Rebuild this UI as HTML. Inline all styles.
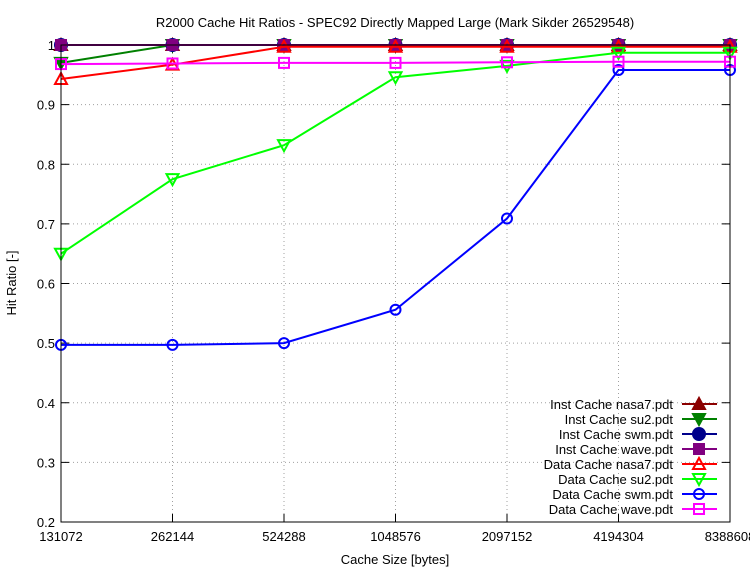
<!DOCTYPE html>
<html><head><meta charset="utf-8"><style>
body{margin:0;background:#fff}
svg{display:block;font-family:"Liberation Sans",sans-serif}
</style></head><body>
<svg id="c" width="750" height="570"></svg>
<script>
const categories=["131072","262144","524288","1048576","2097152","4194304","8388608"];
const yTicks=[0.2,0.3,0.4,0.5,0.6,0.7,0.8,0.9,1];
const yTickLabels=["0.2","0.3","0.4","0.5","0.6","0.7","0.8","0.9","1"];
const seriesNames=["Inst Cache nasa7.pdt","Inst Cache su2.pdt","Inst Cache swm.pdt","Inst Cache wave.pdt","Data Cache nasa7.pdt","Data Cache su2.pdt","Data Cache swm.pdt","Data Cache wave.pdt"];
const instNasa7=[1,1,1,1,1,1,1];
const instSu2=[0.97,1,1,1,1,1,1];
const instSwm=[1,1,1,1,1,1,1];
const instWave=[1,1,1,1,1,1,1];
const dataNasa7=[0.943,0.967,0.997,0.997,0.997,0.997,0.997];
const dataSu2=[0.65,0.775,0.832,0.946,0.965,0.987,0.987];
const dataSwm=[0.497,0.497,0.5,0.556,0.709,0.958,0.958];
const dataWave=[0.968,0.969,0.97,0.97,0.971,0.972,0.972];
const seriesValues=[instNasa7,instSu2,instSwm,instWave,dataNasa7,dataSu2,dataSwm,dataWave];
const colors=["#8b0000","#008000","#00008b","#800080","#ff0000","#00ff00","#0000ff","#ff00ff"];
const markers=["tri","itri","circ","sq","tri","itri","circ","sq"];
const filled=[1,1,1,1,0,0,0,0];
const L=61,R=730,T=45,B=522,ymin=0.2,ymax=1;
const xs=i=>L+i*(R-L)/(categories.length-1);
const ys=v=>B-(v-ymin)/(ymax-ymin)*(B-T);
const svg=document.getElementById('c');const NS="http://www.w3.org/2000/svg";
function mk(t,a,p){const e=document.createElementNS(NS,t);for(const k in a)e.setAttribute(k,a[k]);(p||svg).appendChild(e);return e;}
function txt(s,x,y,anchor,name){const e=mk('text',{x:x,y:y,'text-anchor':anchor,'font-size':13,fill:'#000'});e.textContent=s;

return e;}
// grid + ticks
yTicks.forEach((v,i)=>{const y=ys(v);
 if(i>0&&i<yTicks.length-1){const g=mk('line',{x1:L,x2:R,y1:y,y2:y,stroke:'#a0a0a0','stroke-dasharray':'1,3'});
 
 }
 mk('line',{x1:L,x2:L+8,y1:y,y2:y,stroke:'#000'});mk('line',{x1:R,x2:R-8,y1:y,y2:y,stroke:'#000'});
 txt(yTickLabels[i],L-6,y+5,'end','y-tick-label');});
categories.forEach((c,i)=>{const x=xs(i);
 if(i>0&&i<categories.length-1){const g=mk('line',{x1:x,x2:x,y1:T,y2:B,stroke:'#a0a0a0','stroke-dasharray':'1,3'});
 
 }
 mk('line',{x1:x,x2:x,y1:B,y2:B-8,stroke:'#000'});mk('line',{x1:x,x2:x,y1:T,y2:T+8,stroke:'#000'});
 txt(c,x,541,'middle','x-tick-label');});
function marker(type,x,y,col,fill,g){const f=fill?col:'none';const sw=2;
 if(type=='tri')return mk('polygon',{points:`${x},${y-6} ${x-6},${y+5} ${x+6},${y+5}`,fill:f,stroke:col,'stroke-width':sw},g);
 if(type=='itri')return mk('polygon',{points:`${x},${y+6} ${x-6},${y-5} ${x+6},${y-5}`,fill:f,stroke:col,'stroke-width':sw},g);
 if(type=='circ')return mk('circle',{cx:x,cy:y,r:fill?6:5,fill:f,stroke:col,'stroke-width':sw},g);
 return mk('rect',{x:x-5,y:y-5,width:10,height:10,fill:f,stroke:col,'stroke-width':sw},g);}
// legend lines first? draw series in order
seriesValues.forEach((vals,s)=>{const g=mk('g',{});
 
 
 mk('polyline',{points:vals.map((v,i)=>xs(i)+','+ys(v)).join(' '),fill:'none',stroke:colors[s],'stroke-width':2},g);
 vals.forEach((v,i)=>marker(markers[s],xs(i),ys(v),colors[s],filled[s],g));
 const ly=404+s*15;
 const lg=mk('g',{});
 
 
 const t=mk('text',{x:673,y:ly+5,'text-anchor':'end','font-size':13},lg);t.textContent=seriesNames[s];
 mk('line',{x1:682,x2:717,y1:ly,y2:ly,stroke:colors[s],'stroke-width':2},lg);
 marker(markers[s],699,ly,colors[s],filled[s],lg);
});
const fr=mk('rect',{x:L,y:T,width:R-L,height:B-T,fill:'none',stroke:'#000'});


txt("R2000 Cache Hit Ratios - SPEC92 Directly Mapped Large (Mark Sikder 26529548)",395,27,'middle','chart-title');
txt("Cache Size [bytes]",395,564,'middle','x-axis-title');
const yt=txt("Hit Ratio [-]",0,0,'middle','y-axis-title');yt.setAttribute('transform','translate(16,283) rotate(-90)');
</script>
</body></html>
